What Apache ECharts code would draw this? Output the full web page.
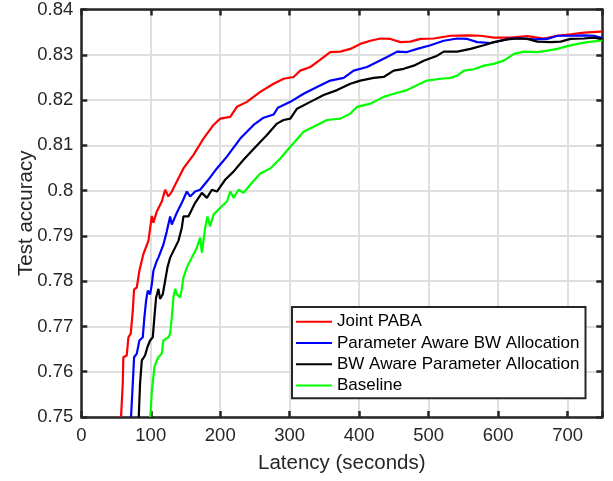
<!DOCTYPE html>
<html>
<head>
<meta charset="utf-8">
<script src="https://cdn.jsdelivr.net/npm/echarts@6/dist/echarts.min.js"></script>
<style>
html,body{margin:0;padding:0;background:#fff;}
#chart{width:613px;height:481px;}
</style>
</head>
<body>
<div id="chart"></div>
<script>
const seriesNames = ['Joint PABA', 'Parameter Aware BW Allocation', 'BW Aware Parameter Allocation', 'Baseline'];
const seriesColors = ['#ff0000', '#0000ff', '#000000', '#00ff00'];
const xTicks = [0, 100, 200, 300, 400, 500, 600, 700];
const yTicks = [0.75, 0.76, 0.77, 0.78, 0.79, 0.8, 0.81, 0.82, 0.83, 0.84];

const jointPABA = [[57.2,0.750],[59.7,0.7574],[60.5,0.7632],[65.4,0.7636],[67.8,0.7676],[71.2,0.7684],[74.1,0.7735],[76,0.7782],[79.9,0.7786],[83.6,0.7823],[89.4,0.7860],[96.6,0.7889],[101.5,0.7944],[103.8,0.7929],[108.7,0.7954],[115.9,0.7976],[120.7,0.8002],[125.4,0.7987],[130.3,0.7998],[137.5,0.8020],[147,0.8049],[161.5,0.8079],[175.9,0.8115],[190.3,0.8145],[200,0.8159],[214.4,0.8163],[224,0.8185],[238.4,0.8196],[257.6,0.8218],[276.8,0.8236],[291.2,0.8247],[305.6,0.8251],[315.2,0.8265],[329.7,0.8273],[339.3,0.8284],[358.4,0.8306],[372.9,0.8307],[387.3,0.8313],[401.7,0.8324],[416.1,0.8331],[430.6,0.8336],[445,0.8335],[459.4,0.8328],[473.8,0.8329],[488.3,0.8335],[507.4,0.8336],[531.5,0.8342],[555.6,0.8343],[574.8,0.8342],[594,0.8338],[618,0.8338],[642,0.8341],[666,0.8336],[685.3,0.8342],[704.5,0.8345],[723.7,0.8349],[747.7,0.8351],[750,0.8351]];

const paramAwareBW = [[71.6,0.750],[74.1,0.7574],[76,0.7632],[79.9,0.7640],[83.6,0.7669],[88.5,0.7676],[90.8,0.7720],[93.3,0.7757],[95.7,0.7779],[99,0.7771],[101.5,0.7793],[103.8,0.7823],[108.7,0.7845],[111,0.7852],[118.2,0.7881],[123.1,0.7910],[127.9,0.7943],[130.3,0.7925],[137.5,0.7951],[144.7,0.7973],[151.9,0.7998],[156.7,0.7987],[163.9,0.7998],[171.1,0.8002],[180.8,0.8020],[195.2,0.8049],[209.6,0.8075],[228.8,0.8115],[248,0.8145],[262.4,0.8161],[276.8,0.8168],[283,0.8183],[300.9,0.8196],[320,0.8214],[339.3,0.8229],[358.4,0.8243],[377.7,0.8249],[392.1,0.8265],[411.3,0.8273],[425.8,0.8284],[440.2,0.8295],[454.7,0.8307],[469,0.8306],[483.5,0.8313],[502.6,0.8321],[521.8,0.8331],[541.2,0.8336],[555.6,0.8335],[570,0.8328],[589.2,0.8326],[603.6,0.8331],[618,0.8336],[637.2,0.8336],[651.6,0.8334],[670.9,0.8335],[685.3,0.8342],[704.5,0.8342],[723.7,0.8343],[737.9,0.8342],[747.7,0.8338],[750,0.8337]];

const bwAwareParam = [[82.7,0.750],[84.6,0.7574],[87.1,0.7625],[91.8,0.7636],[95.1,0.7654],[99,0.7669],[102.9,0.7676],[105.2,0.7720],[107.7,0.7764],[111,0.7783],[113.4,0.7761],[117.3,0.7771],[120.7,0.7801],[124,0.7830],[127.9,0.7852],[139.8,0.7889],[144.7,0.7918],[147,0.7943],[154.2,0.7943],[163.9,0.7973],[173.6,0.7995],[180.8,0.7984],[188,0.8002],[195.2,0.7998],[207.1,0.8024],[219.1,0.8042],[233.5,0.8068],[248,0.8092],[267.2,0.8123],[281.7,0.8148],[291.2,0.8156],[300.9,0.8159],[310.5,0.8181],[329.7,0.8196],[348.9,0.8211],[368.2,0.8222],[387.3,0.8236],[401.7,0.8243],[420.9,0.8249],[435.3,0.8251],[449.7,0.8265],[464.2,0.8269],[478.6,0.8276],[493,0.8287],[512.3,0.8298],[521.8,0.8307],[541.2,0.8307],[560.3,0.8313],[579.5,0.8321],[593.9,0.8328],[613.2,0.8334],[627.6,0.8336],[642,0.8335],[656.5,0.8329],[675.6,0.8328],[690,0.8329],[704.5,0.8335],[723.7,0.8336],[737.9,0.8338],[747.7,0.8335],[750,0.8335]];

const baseline = [[99.3,0.750],[101.7,0.7559],[105.2,0.7610],[108.7,0.7625],[111,0.7632],[115.9,0.7640],[118.2,0.7669],[122.1,0.7673],[125.4,0.7676],[127.9,0.7684],[130.3,0.7720],[132.6,0.7764],[135.1,0.7783],[137.5,0.7771],[142.2,0.7764],[144.7,0.7783],[147,0.7808],[151.9,0.7830],[159.1,0.7852],[166.4,0.7874],[171.1,0.7896],[173.6,0.7863],[178.3,0.7918],[181.6,0.7943],[185.5,0.7921],[190.3,0.7947],[200,0.7962],[209.6,0.7976],[214.4,0.7998],[219.1,0.7984],[226.3,0.8002],[233.5,0.7995],[243.2,0.8013],[257.6,0.8038],[272,0.8049],[286.4,0.8071],[300.9,0.8097],[320,0.8130],[339.3,0.8145],[353.7,0.8156],[372.9,0.8159],[387.3,0.8170],[397,0.8185],[416.1,0.8192],[435.3,0.8207],[449.7,0.8214],[469,0.8222],[483.5,0.8233],[497.9,0.8243],[517.1,0.8247],[531.5,0.8249],[541.2,0.8254],[550.7,0.8265],[565.1,0.8268],[579.5,0.8276],[593.9,0.8280],[608.3,0.8287],[622.7,0.8302],[637.2,0.8307],[656.5,0.8306],[670.9,0.8309],[685.3,0.8313],[699.7,0.8319],[714.2,0.8324],[728.6,0.8328],[747.7,0.8331],[750,0.8332]];

const allData = [jointPABA, paramAwareBW, bwAwareParam, baseline];

const FONT = '"Liberation Sans", Arial, Helvetica, sans-serif';
const AX = '#262626';
const GRIDC = '#dfdfdf';

const chart = echarts.init(document.getElementById('chart'), null, {renderer: 'canvas'});

const baseAxis = {
  axisLine: {show: true, onZero: false, lineStyle: {color: AX, width: 2.5}},
  axisTick: {show: true, inside: true, length: 6, lineStyle: {color: AX, width: 2.5}},
};

const option = {
  animation: false,
  backgroundColor: '#ffffff',
  grid: {left: 81.3, right: 10.7, top: 7, bottom: 64, containLabel: false},
  legend: {
    data: seriesNames,
    orient: 'vertical',
    left: 292,
    top: 307,
    icon: 'rect',
    itemWidth: 36,
    itemHeight: 2,
    itemGap: 0,
    padding: [4, 6, 2, 4],
    borderColor: AX,
    borderWidth: 2,
    borderRadius: 0,
    backgroundColor: '#ffffff',
    textStyle: {fontFamily: FONT, fontSize: 17, color: '#000', lineHeight: 21.3, padding: [0,0,0,0]}
  },
  xAxis: [
    Object.assign({}, baseAxis, {
      type: 'value', position: 'bottom', min: 0, max: 750, interval: 100,
      name: 'Latency (seconds)', nameLocation: 'middle', nameGap: 36, nameMoveOverlap: false,
      nameTextStyle: {fontFamily: FONT, fontSize: 20.5, color: AX},
      axisLabel: {fontFamily: FONT, fontSize: 18.5, color: AX, margin: 9,
        formatter: function (v) { return xTicks.indexOf(v) >= 0 ? String(v) : ''; }},
      splitLine: {show: true, lineStyle: {color: GRIDC, width: 2}}
    }),
    Object.assign({}, baseAxis, {
      type: 'value', position: 'top', min: 0, max: 750, interval: 100,
      axisLabel: {show: false}, splitLine: {show: false}
    })
  ],
  yAxis: [
    Object.assign({}, baseAxis, {
      type: 'value', position: 'left', min: 0.75, max: 0.84, interval: 0.01,
      name: 'Test accuracy', nameLocation: 'middle', nameGap: 44, nameMoveOverlap: false,
      nameTextStyle: {fontFamily: FONT, fontSize: 20.5, color: AX},
      axisLabel: {fontFamily: FONT, fontSize: 18.5, color: AX, margin: 8,
        formatter: function (v) {
          const r = parseFloat(v.toFixed(2));
          return yTicks.indexOf(r) >= 0 ? String(r) : '';
        }},
      splitLine: {show: true, lineStyle: {color: GRIDC, width: 2}}
    }),
    Object.assign({}, baseAxis, {
      type: 'value', position: 'right', min: 0.75, max: 0.84, interval: 0.01,
      axisLabel: {show: false}, splitLine: {show: false}
    })
  ],
  series: seriesNames.map(function (name, i) {
    return {
      name: name,
      type: 'line',
      xAxisIndex: 0,
      yAxisIndex: 0,
      data: allData[i],
      showSymbol: false,
      symbol: 'none',
      clip: true,
      lineStyle: {color: seriesColors[i], width: 2.2},
      itemStyle: {color: seriesColors[i]},
      emphasis: {disabled: true}
    };
  })
};

chart.setOption(option);
</script>
</body>
</html>
